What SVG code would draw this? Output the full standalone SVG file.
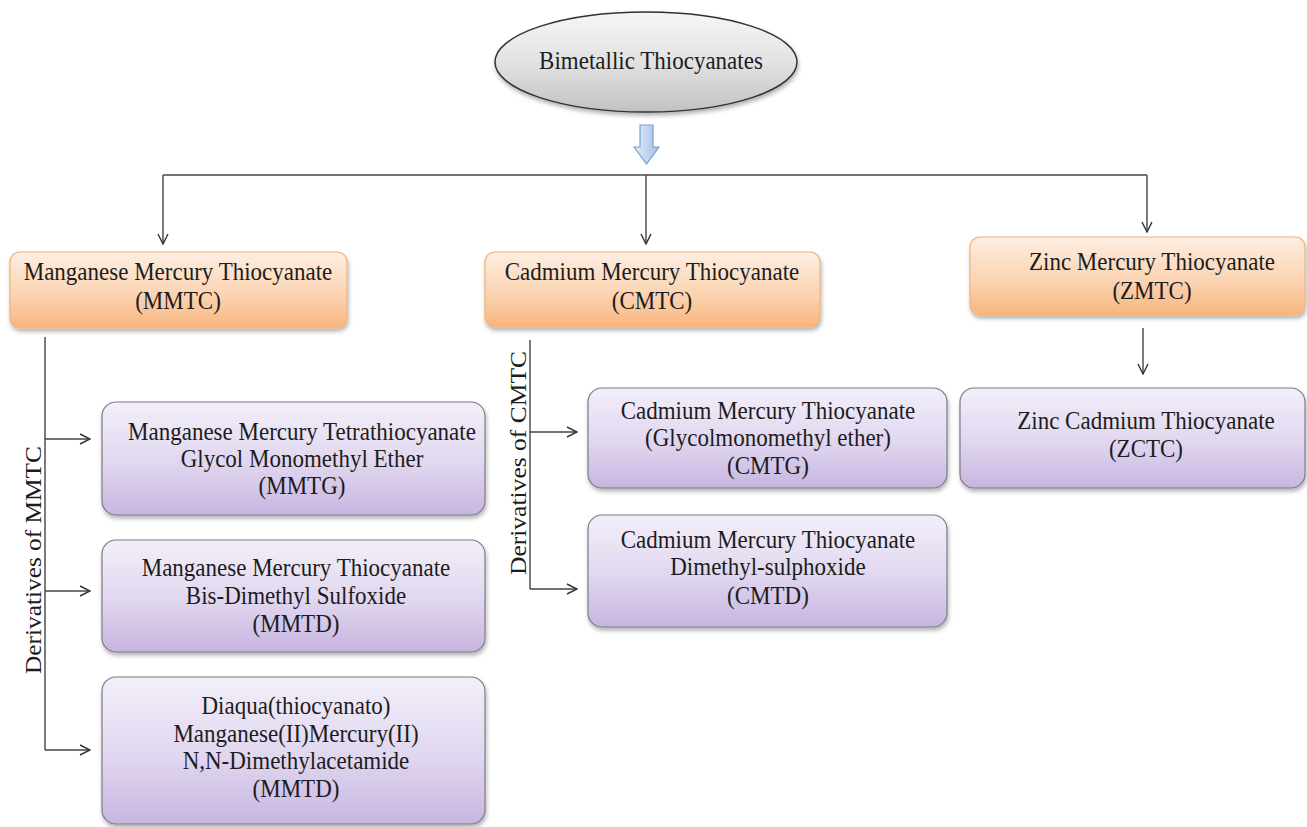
<svg xmlns="http://www.w3.org/2000/svg" width="1307" height="827" viewBox="0 0 1307 827">
<defs>
<linearGradient id="gOr" x1="0" y1="0" x2="0" y2="1"><stop offset="0" stop-color="#fdeee2"/><stop offset="0.6" stop-color="#fbd2ae"/><stop offset="1" stop-color="#f8b47c"/></linearGradient>
<linearGradient id="gPu" x1="0" y1="0" x2="0" y2="1"><stop offset="0" stop-color="#f3eff9"/><stop offset="0.55" stop-color="#e0d6ef"/><stop offset="1" stop-color="#c7b5e0"/></linearGradient>
<linearGradient id="gEl" x1="0" y1="0" x2="0" y2="1"><stop offset="0" stop-color="#f6f6f6"/><stop offset="0.5" stop-color="#e2e2e2"/><stop offset="1" stop-color="#c2c2c2"/></linearGradient>
<linearGradient id="gAr" x1="0" y1="0" x2="1" y2="0"><stop offset="0" stop-color="#e4eefa"/><stop offset="1" stop-color="#9fc0ea"/></linearGradient>
<filter id="sh" x="-5%" y="-5%" width="112%" height="120%"><feDropShadow dx="1" dy="3" stdDeviation="2" flood-color="#000" flood-opacity="0.3"/></filter>
<marker id="ah" viewBox="0 0 12 12" refX="11" refY="6" markerWidth="12" markerHeight="12" markerUnits="userSpaceOnUse" orient="auto"><path d="M1,1 L11,6 L1,11" fill="none" stroke="#333" stroke-width="1.4"/></marker>
</defs>
<style>
.t,.r{font-family:"Liberation Serif","Times New Roman",serif;font-size:23px;fill:#1c1c1c;text-anchor:middle}
.t{transform-box:fill-box;transform-origin:center;transform:scaleY(1.05)}
.or{fill:url(#gOr);stroke:#f0b27a;stroke-width:1.2;filter:url(#sh)}
.pu{fill:url(#gPu);stroke:#7f7a88;stroke-width:1.2;filter:url(#sh)}
.ln{fill:none;stroke:#444;stroke-width:1.4}
</style>
<rect width="1307" height="827" fill="#fff"/>
<g id="root">
<ellipse cx="646" cy="62" rx="151" ry="50" fill="url(#gEl)" stroke="#333" stroke-width="1.5" filter="url(#sh)"/>
<text class="t" x="651" y="69">Bimetallic Thiocyanates</text>
</g>
<g id="blockarrow">
<path d="M640,125 L653,125 L653,147 L659,147 L646.5,164 L634,147 L640,147 Z" fill="url(#gAr)" stroke="#7b9fcc" stroke-width="1.2"/>
</g>
<g id="connectors">
<path class="ln" d="M163,175 L1147,175"/>
<path class="ln" d="M163,175 L163,244" marker-end="url(#ah)"/>
<path class="ln" d="M646,175 L646,244" marker-end="url(#ah)"/>
<path class="ln" d="M1147,175 L1147,232" marker-end="url(#ah)"/>
<path class="ln" d="M45,337 L45,750"/>
<path class="ln" d="M45,439 L90,439" marker-end="url(#ah)"/>
<path class="ln" d="M45,591 L90,591" marker-end="url(#ah)"/>
<path class="ln" d="M45,750 L90,750" marker-end="url(#ah)"/>
<path class="ln" d="M530,340 L530,589"/>
<path class="ln" d="M530,432 L577,432" marker-end="url(#ah)"/>
<path class="ln" d="M530,589 L577,589" marker-end="url(#ah)"/>
<path class="ln" d="M1143,328 L1143,374" marker-end="url(#ah)"/>
</g>
<g id="mmtc">
<rect class="or" x="10" y="252" width="337" height="76" rx="10"/>
<text class="t" x="178" y="280">Manganese Mercury Thiocyanate</text>
<text class="t" x="178" y="309">(MMTC)</text>
</g>
<g id="cmtc">
<rect class="or" x="485" y="252" width="335" height="75" rx="10"/>
<text class="t" x="652" y="280">Cadmium Mercury Thiocyanate</text>
<text class="t" x="652" y="309">(CMTC)</text>
</g>
<g id="zmtc">
<rect class="or" x="970" y="237" width="335" height="78" rx="10"/>
<text class="t" x="1152" y="270">Zinc Mercury Thiocyanate</text>
<text class="t" x="1152" y="299">(ZMTC)</text>
</g>
<g id="label-mmtc">
<text class="r" transform="translate(41,560) rotate(-90)" textLength="228" lengthAdjust="spacingAndGlyphs">Derivatives of MMTC</text>
</g>
<g id="label-cmtc">
<text class="r" transform="translate(526,463) rotate(-90)" textLength="224" lengthAdjust="spacingAndGlyphs">Derivatives of CMTC</text>
</g>
<g id="mmtg">
<rect class="pu" x="102" y="402" width="383" height="113" rx="14"/>
<text class="t" x="302" y="440">Manganese Mercury Tetrathiocyanate</text>
<text class="t" x="302" y="467">Glycol Monomethyl Ether</text>
<text class="t" x="302" y="494">(MMTG)</text>
</g>
<g id="mmtd1">
<rect class="pu" x="102" y="540" width="383" height="112" rx="14"/>
<text class="t" x="296" y="576">Manganese Mercury Thiocyanate</text>
<text class="t" x="296" y="604">Bis-Dimethyl Sulfoxide</text>
<text class="t" x="296" y="632">(MMTD)</text>
</g>
<g id="mmtd2">
<rect class="pu" x="102" y="677" width="383" height="147" rx="14"/>
<text class="t" x="296" y="714">Diaqua(thiocyanato)</text>
<text class="t" x="296" y="742">Manganese(II)Mercury(II)</text>
<text class="t" x="296" y="769">N,N-Dimethylacetamide</text>
<text class="t" x="296" y="797">(MMTD)</text>
</g>
<g id="cmtg">
<rect class="pu" x="588" y="388" width="359" height="100" rx="14"/>
<text class="t" x="768" y="419">Cadmium Mercury Thiocyanate</text>
<text class="t" x="768" y="446">(Glycolmonomethyl ether)</text>
<text class="t" x="768" y="474">(CMTG)</text>
</g>
<g id="cmtd">
<rect class="pu" x="588" y="515" width="359" height="112" rx="14"/>
<text class="t" x="768" y="548">Cadmium Mercury Thiocyanate</text>
<text class="t" x="768" y="575">Dimethyl-sulphoxide</text>
<text class="t" x="768" y="604">(CMTD)</text>
</g>
<g id="zctc">
<rect class="pu" x="960" y="388" width="345" height="100" rx="14"/>
<text class="t" x="1146" y="429">Zinc Cadmium Thiocyanate</text>
<text class="t" x="1146" y="457">(ZCTC)</text>
</g>
</svg>
